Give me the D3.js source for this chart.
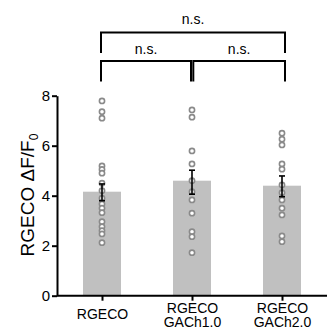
<!DOCTYPE html>
<html><head><meta charset="utf-8">
<script src="https://cdn.jsdelivr.net/npm/d3@7"></script>
<style>body{margin:0;background:#fff}svg{display:block;font-family:"Liberation Sans",Arial,sans-serif}</style>
</head><body><svg id="c" width="334" height="336"></svg>
<script>
const categories = ["RGECO", "RGECO\nGACh1.0", "RGECO\nGACh2.0"];
const means = [4.16, 4.6, 4.4];
const semLow = [3.8, 4.06, 3.96];
const semHigh = [4.47, 5.02, 4.79];
const points0 = [7.79, 7.36, 7.1, 5.19, 5.05, 4.9, 4.5, 4.2, 3.9, 3.67, 3.5, 3.32, 2.96, 2.76, 2.6, 2.47, 2.12];
const points1 = [7.43, 7.14, 5.79, 5.27, 4.6, 4.16, 3.83, 3.3, 2.56, 2.36, 1.72];
const points2 = [6.5, 6.26, 6.03, 5.27, 5.06, 4.43, 4.12, 3.83, 3.5, 3.23, 2.39, 2.16];
const yTicks = [0, 2, 4, 6, 8];
const comparisons = [[0, 2, "n.s."], [0, 1, "n.s."], [1, 2, "n.s."]];

const svg = d3.select("#c");
const x = d3.scalePoint().domain(categories).range([57, 327]).padding(0.5);
const y = d3.scaleLinear().domain([0, 8]).range([295.7, 95.7]);
const barW = 38;

// bars
svg.selectAll("rect.bar").data(means).join("rect")
  .attr("x", (d, i) => x(categories[i]) - barW / 2)
  .attr("y", d => y(d))
  .attr("width", barW)
  .attr("height", d => y(0) - y(d))
  .attr("fill", "#c0c0c0");

// points
[points0, points1, points2].forEach((pts, i) => {
  svg.append("g").selectAll("circle").data(pts).join("circle")
    .attr("cx", x(categories[i]))
    .attr("cy", d => y(d))
    .attr("r", 2.6)
    .attr("fill", "#fff")
    .attr("stroke", "#8a8a8a")
    .attr("stroke-width", 1.6);
});

// error bars
const eg = svg.append("g").attr("stroke", "#000").attr("stroke-width", 1.6);
means.forEach((m, i) => {
  const cx = x(categories[i]);
  eg.append("line").attr("x1", cx).attr("x2", cx).attr("y1", y(semLow[i])).attr("y2", y(semHigh[i]));
  eg.append("line").attr("x1", cx - 3).attr("x2", cx + 3).attr("y1", y(semLow[i])).attr("y2", y(semLow[i]));
  eg.append("line").attr("x1", cx - 3).attr("x2", cx + 3).attr("y1", y(semHigh[i])).attr("y2", y(semHigh[i]));
});

// y axis
const ya = svg.append("g").attr("transform", "translate(57,0)")
  .call(d3.axisLeft(y).tickValues(yTicks).tickFormat(d3.format("d")).tickSize(5).tickSizeOuter(0).tickPadding(2));
ya.select(".domain").attr("stroke-width", 2);
ya.selectAll(".tick line").attr("stroke-width", 2);
ya.selectAll(".tick text").attr("font-size", 15).attr("fill", "#000").attr("font-family", "Liberation Sans, Arial, sans-serif");

// x axis
const xa = svg.append("g").attr("transform", "translate(0,295.7)")
  .call(d3.axisBottom(x).tickSize(5).tickSizeOuter(0).tickFormat(""));
xa.select(".domain").attr("stroke-width", 2).attr("d", "M57,0H327");
xa.selectAll(".tick line").attr("stroke-width", 2);
xa.selectAll(".tick").each(function (d) {
  const lines = d.split("\n");
  const t = d3.select(this).append("text").attr("fill", "#000").attr("font-size", 14)
    .attr("text-anchor", "middle").attr("font-family", "Liberation Sans, Arial, sans-serif");
  const y0 = lines.length === 1 ? 23.5 : 17.3;
  lines.forEach((l, k) => t.append("tspan").attr("x", 0).attr("y", y0 + k * 14.3).text(l));
});

// y label
const yl = svg.append("text").attr("transform", "translate(34,195) rotate(-90)")
  .attr("text-anchor", "middle").attr("font-size", 19).attr("fill", "#000");
yl.append("tspan").text("RGECO ΔF/F");
yl.append("tspan").attr("font-size", 12).attr("dy", 4).text("0");

// significance brackets
const bg = svg.append("g").attr("stroke", "#000").attr("stroke-width", 2).attr("fill", "none");
const levels = [{top: 32.5, bottom: 53, label: 19}, {top: 61, bottom: 81.5, label: 49}, {top: 61, bottom: 81.5, label: 49}];
comparisons.forEach((c, k) => {
  const L = levels[k];
  let x1 = x(categories[c[0]]) - 1, x2 = x(categories[c[1]]) + 3;
  if (k === 1) x2 = x(categories[c[1]]) - 1;
  if (k === 2) x1 = x(categories[c[0]]) + 1.3;
  bg.append("path").attr("d", `M${x1},${L.bottom}V${L.top}H${x2}V${L.bottom}`);
  svg.append("text").attr("x", (x1 + x2) / 2).attr("y", L.label + 5).attr("text-anchor", "middle")
    .attr("font-size", 14).attr("fill", "#000").text(c[2]);
});
</script></body></html>
